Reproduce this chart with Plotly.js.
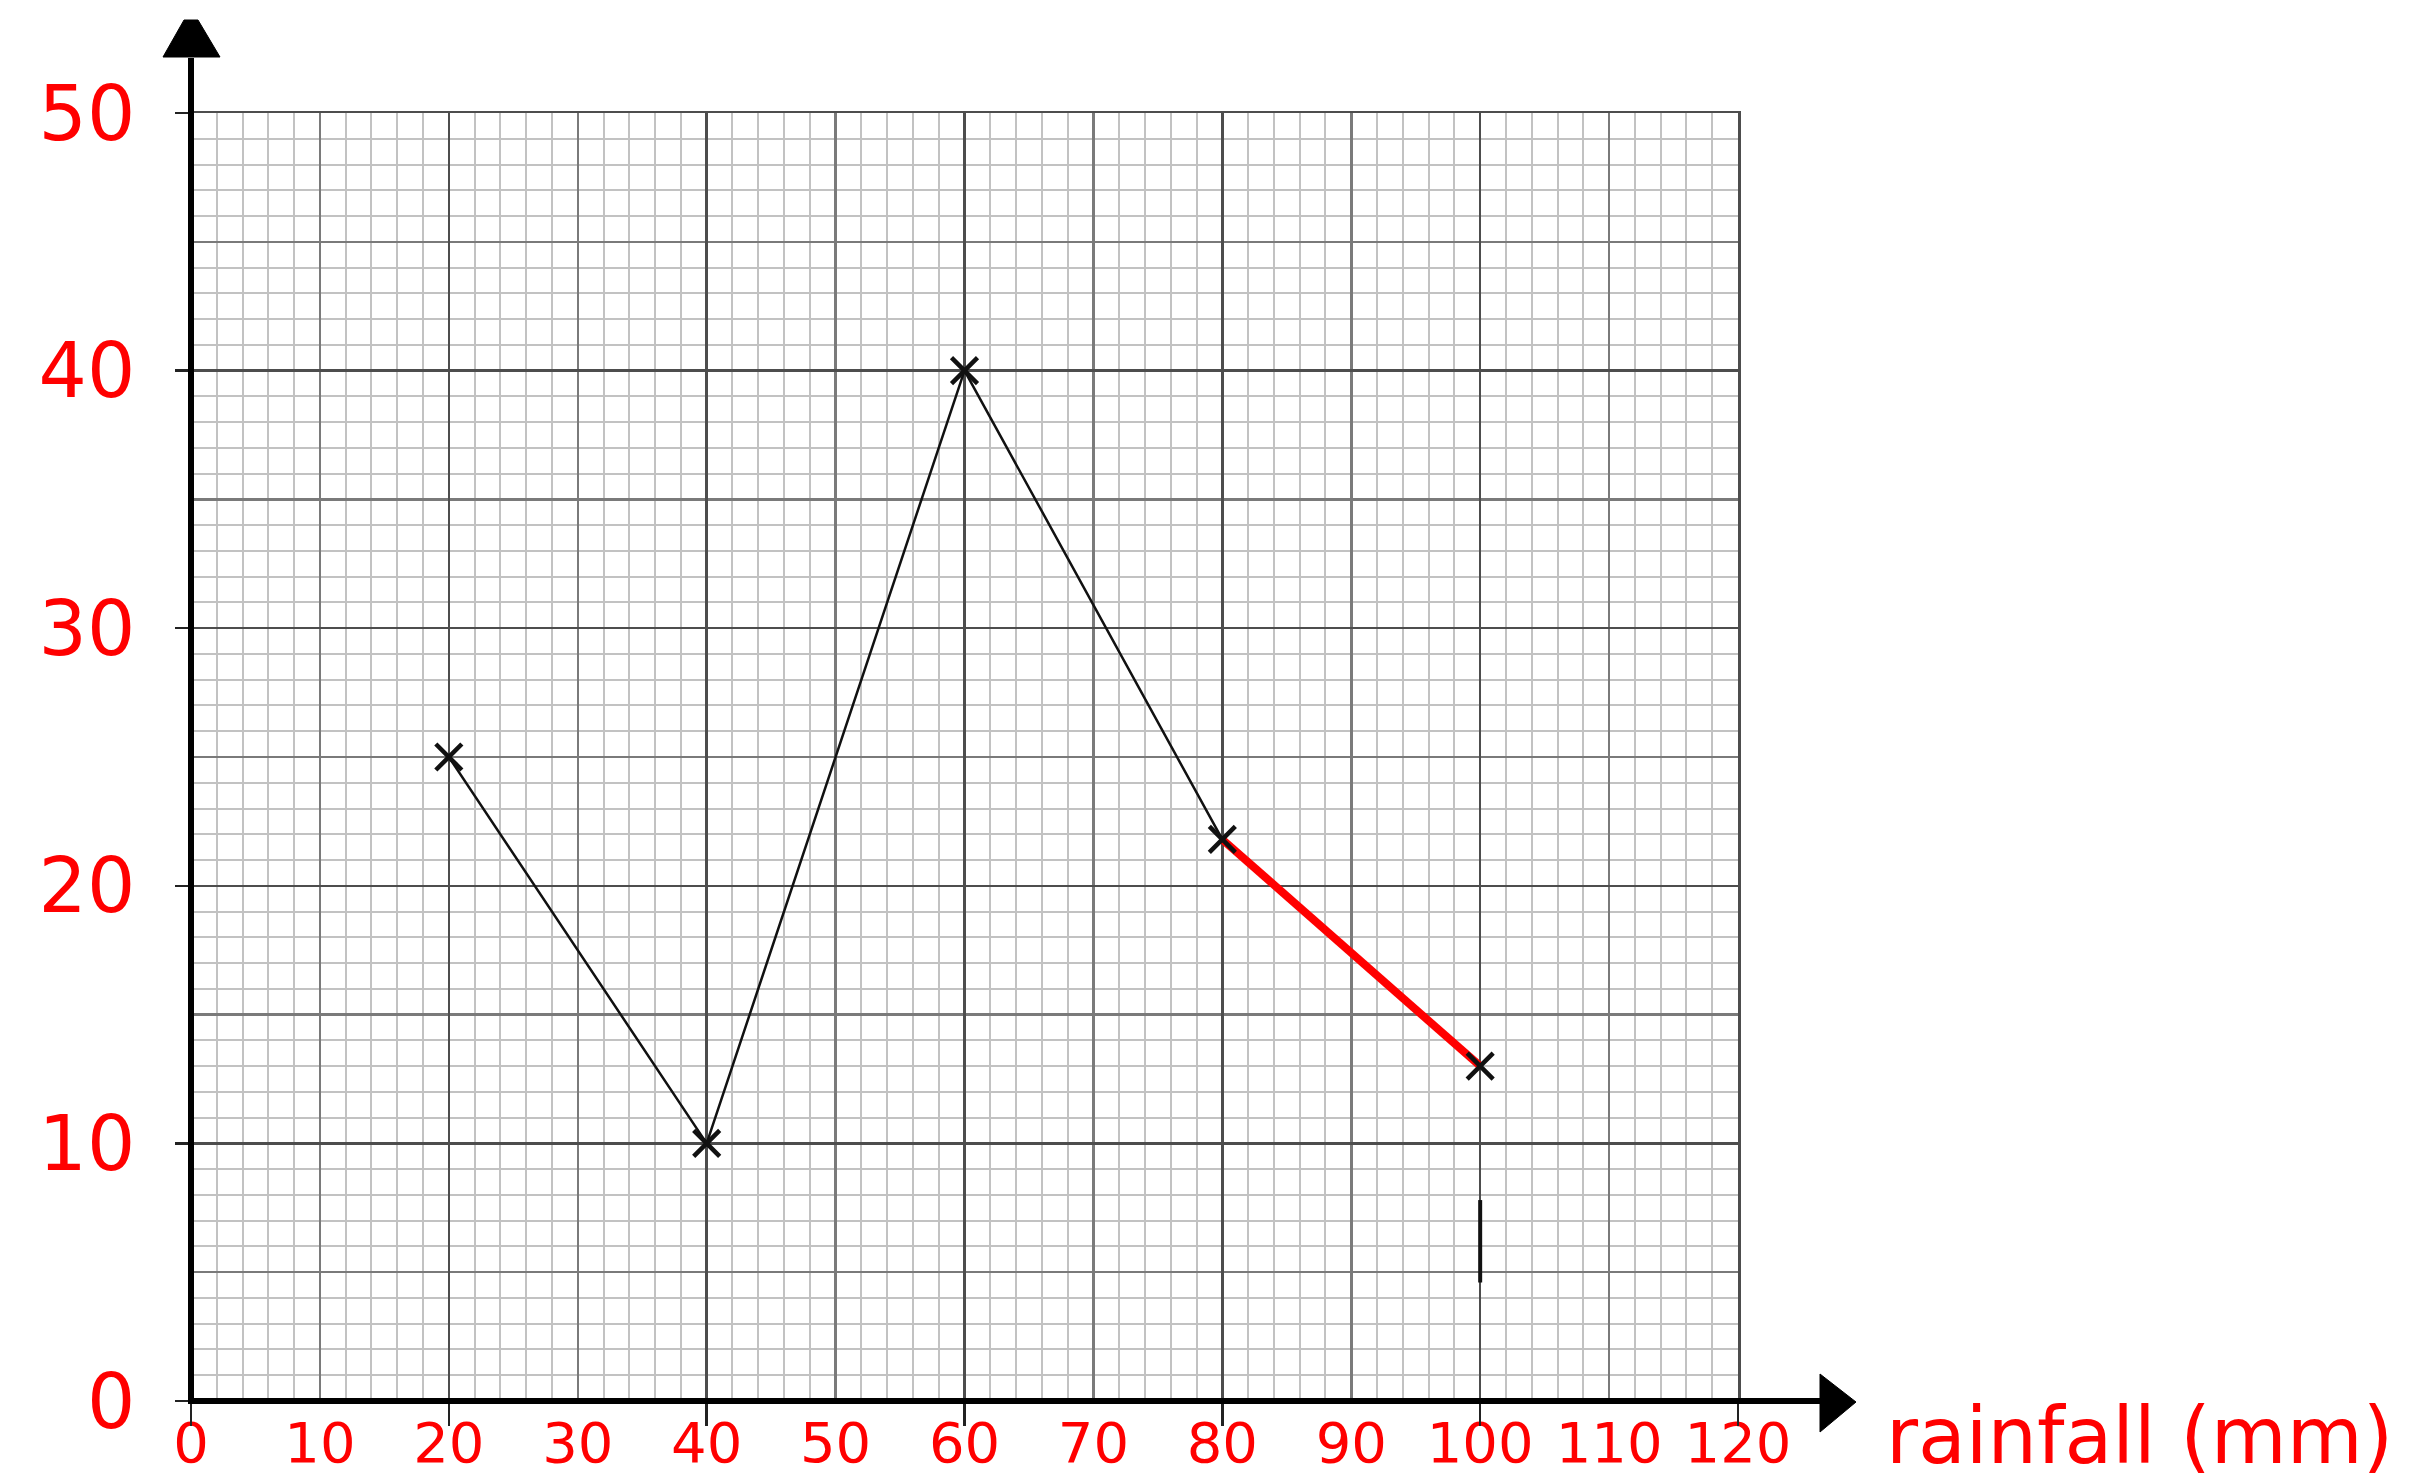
<!DOCTYPE html>
<html>
<head>
<meta charset="utf-8">
<script src="https://cdn.plot.ly/plotly-3.0.1.min.js"></script>
<style>
  html, body { margin: 0; padding: 0; background: #ffffff; }
  #chart { width: 2410px; height: 1482px; }
</style>
</head>
<body>
<div id="chart"></div>
<script>
// Plotted readings
const rainfall = [20, 40, 60, 80, 100];
const values = [25, 10, 40, 21.8, 13];

// Axis ticks and labels
const xTickVals = [0, 10, 20, 30, 40, 50, 60, 70, 80, 90, 100, 110, 120];
const xTickText = ['0', '10', '20', '30', '40', '50', '60', '70', '80', '90', '100', '110', '120'];
const yTickVals = [0, 10, 20, 30, 40, 50];
const yTickText = ['0', '10', '20', '30', '40', '50'];

// Short pencil stroke drawn at x = 100
const markX = [100, 100];
const markY = [4.6, 7.8];

const W = 2410, H = 1482;
const M = { l: 191, r: 672, t: 113, b: 81 };
const PW = W - M.l - M.r;
const PH = H - M.t - M.b;
// pixel -> paper helpers for the hand-drawn axis arrows
const px = X => (X - M.l) / PW;
const py = Y => (M.t + PH - Y) / PH;

const RED = '#ff0000';
const INK = '#111111';
const handFont = 'DejaVu Sans, Liberation Sans, sans-serif';

const traces = [
  {
    x: rainfall.slice(0, 4), y: values.slice(0, 4),
    type: 'scatter', mode: 'lines',
    line: { color: INK, width: 2.5 },
    hoverinfo: 'skip', showlegend: false
  },
  {
    x: rainfall.slice(3), y: values.slice(3),
    type: 'scatter', mode: 'lines',
    line: { color: RED, width: 8 },
    hoverinfo: 'skip', showlegend: false
  },
  {
    x: rainfall, y: values,
    type: 'scatter', mode: 'markers',
    marker: { symbol: 'x-thin', size: 26, color: INK, line: { color: INK, width: 4.5 } },
    showlegend: false
  },
  {
    x: markX, y: markY, xaxis: 'x2', yaxis: 'y2',
    type: 'scatter', mode: 'lines',
    line: { color: INK, width: 4 },
    hoverinfo: 'skip', showlegend: false
  }
];

const shapes = [
  // y axis with arrow
  { type: 'line', xref: 'paper', yref: 'paper', x0: 0, x1: 0, y0: py(1404), y1: py(58),
    line: { color: '#000', width: 6 }, layer: 'above' },
  { type: 'path', xref: 'paper', yref: 'paper', layer: 'above',
    path: `M ${px(163)} ${py(57)} L ${px(220)} ${py(57)} L ${px(198)} ${py(20)} L ${px(184)} ${py(20)} Z`,
    fillcolor: '#000', line: { color: '#000', width: 1 } },
  // x axis with arrow
  { type: 'line', xref: 'paper', yref: 'paper', x0: px(188), x1: px(1822), y0: 0, y1: 0,
    line: { color: '#000', width: 6 }, layer: 'above' },
  { type: 'path', xref: 'paper', yref: 'paper', layer: 'above',
    path: `M ${px(1820)} ${py(1374)} L ${px(1856)} ${py(1402)} L ${px(1820)} ${py(1432)} Z`,
    fillcolor: '#000', line: { color: '#000', width: 1 } }
];

const layout = {
  width: W, height: H,
  margin: { l: M.l, r: M.r, t: M.t, b: M.b, pad: 0 },
  paper_bgcolor: '#ffffff',
  plot_bgcolor: '#ffffff',
  showlegend: false,
  xaxis: {
    range: [0, 120], autorange: false, fixedrange: true,
    tickmode: 'array', tickvals: xTickVals, ticktext: xTickText,
    ticks: '', zeroline: false, showline: false,
    showgrid: true, gridcolor: '#7a7a7a', gridwidth: 2.5,
    minor: { dtick: 2, showgrid: true, gridcolor: '#c2c2c2', gridwidth: 2, ticks: '' },
    tickfont: { family: handFont, size: 56, color: RED },
    ticklabelstandoff: 4
  },
  yaxis: {
    range: [0, 50], autorange: false, fixedrange: true,
    dtick: 5, tick0: 0,
    ticks: '', showticklabels: false, zeroline: false, showline: false,
    showgrid: true, gridcolor: '#7a7a7a', gridwidth: 2.5,
    minor: { dtick: 1, showgrid: true, gridcolor: '#c2c2c2', gridwidth: 2, ticks: '' }
  },
  xaxis2: {
    overlaying: 'x', anchor: 'y', side: 'bottom',
    range: [0, 120], autorange: false, fixedrange: true,
    dtick: 20, tick0: 0,
    showgrid: true, gridcolor: '#4d4d4d', gridwidth: 2.5,
    ticks: 'outside', ticklen: 22, tickwidth: 2.5, tickcolor: '#222',
    showticklabels: false, zeroline: false,
    showline: true, mirror: true, linecolor: '#4d4d4d', linewidth: 2.5
  },
  yaxis2: {
    overlaying: 'y', anchor: 'x', side: 'left',
    range: [0, 50], autorange: false, fixedrange: true,
    tickmode: 'array', tickvals: yTickVals, ticktext: yTickText,
    showgrid: true, gridcolor: '#4d4d4d', gridwidth: 2.5,
    ticks: 'outside', ticklen: 14, tickwidth: 2.5, tickcolor: '#222',
    zeroline: false,
    showline: true, mirror: true, linecolor: '#4d4d4d', linewidth: 2.5,
    tickfont: { family: handFont, size: 76, color: RED },
    ticklabelstandoff: 24
  },
  shapes: shapes,
  annotations: [
    {
      text: 'rainfall (mm)', xref: 'paper', yref: 'paper',
      x: px(1884), y: py(1436), xanchor: 'left', yanchor: 'middle',
      showarrow: false,
      font: { family: handFont, size: 78, color: RED }
    }
  ]
};

Plotly.newPlot('chart', traces, layout, { staticPlot: true, displayModeBar: false });
</script>
</body>
</html>
